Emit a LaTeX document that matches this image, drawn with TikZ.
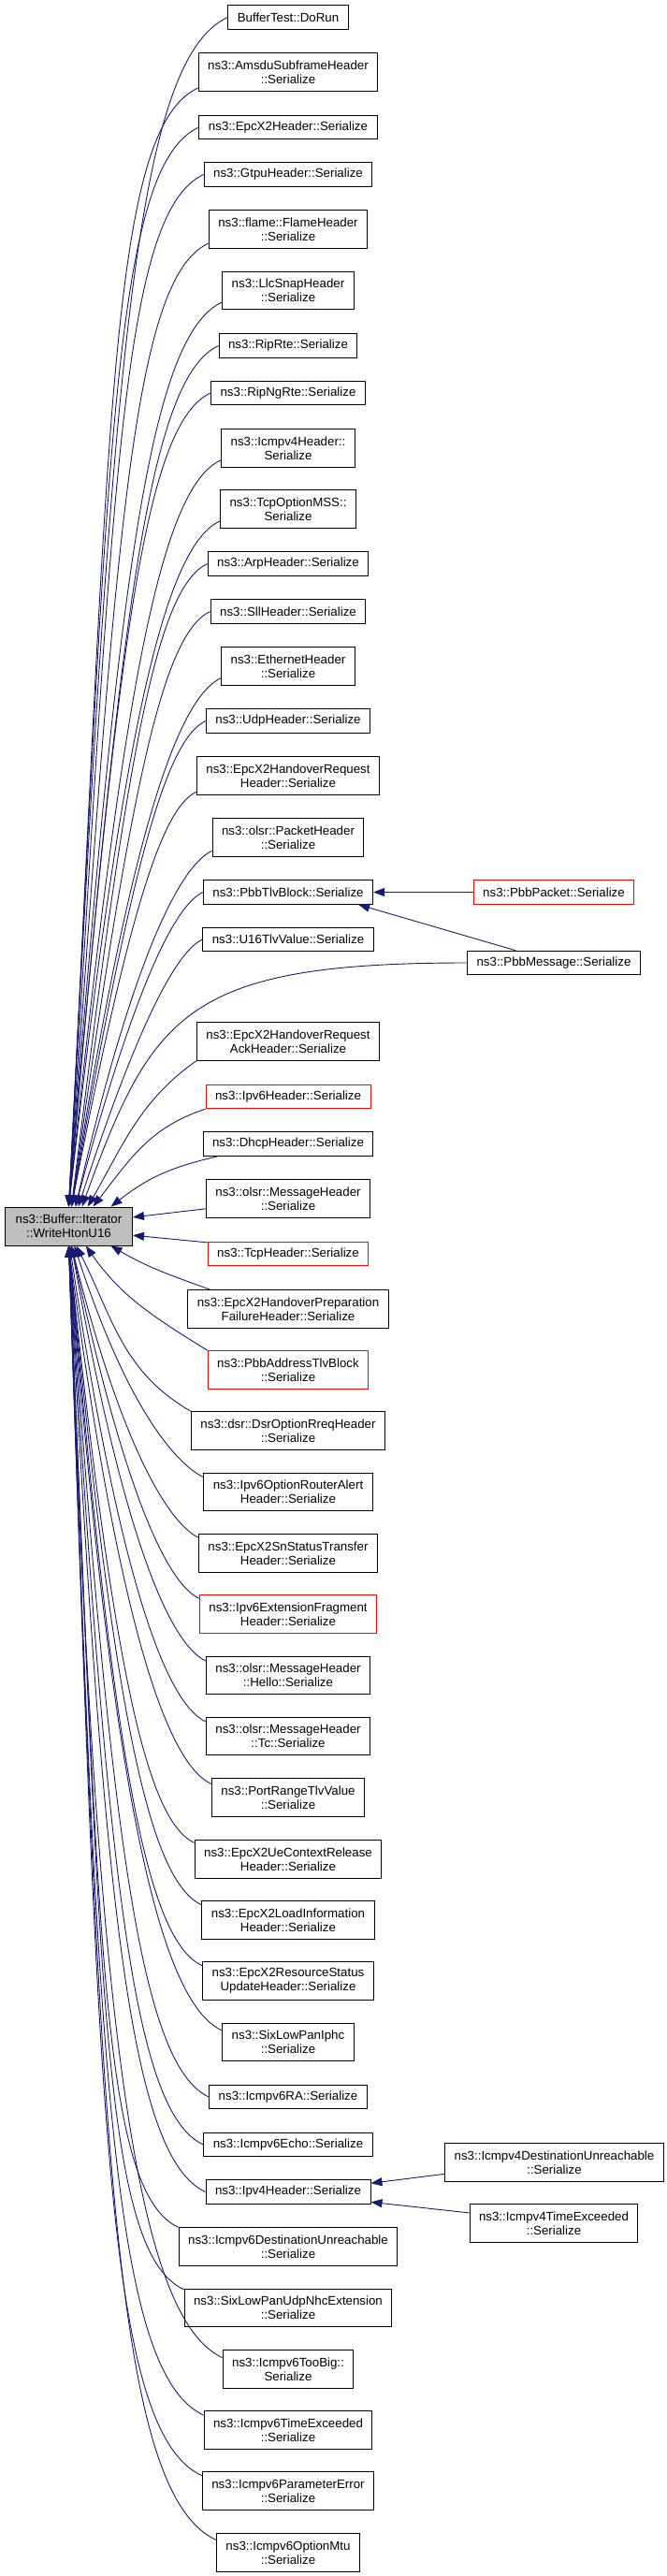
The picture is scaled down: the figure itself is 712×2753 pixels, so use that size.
\documentclass[tikz,border=0pt]{standalone}
\usepackage{fontspec}
\setmainfont{Liberation Sans}
\usepackage{xcolor}
\definecolor{midnight}{HTML}{191970}
\definecolor{callred}{HTML}{FF0000}
\definecolor{rootgray}{HTML}{BFBFBF}
\usetikzlibrary{arrows.meta,positioning}
\tikzset{
    fn/.style ={rectangle, draw, line width=1pt, align=center, inner xsep=10pt, inner ysep=3pt,
                minimum height=25.5pt, font=\fontsize{13.3}{15}\selectfont},
    fn2/.style ={fn, minimum height=40.5pt},
    hot/.style ={draw=callred},
    root/.style ={fn2, fill=rootgray, minimum width=136pt, minimum height=41pt},
    call/.style ={midnight, line width=0.9pt, -{Triangle[length=12pt,width=9pt]}}
}

\begin{document}
\begin{tikzpicture}[x=1pt,y=-1pt]
      \useasboundingbox (0,0) rectangle (712,2753);

      \node[root] (main) at (73.5,1310.5) {ns3::Buffer::Iterator\\::WriteHtonU16};

      % callers, top half
      \node[fn] (doRun) at (308,18.5) {BufferTest::DoRun};
      \node[fn2] (amsdu) at (308,77) {ns3::AmsduSubframeHeader\\::Serialize};
      \node[fn] (epcX2) at (308,136) {ns3::EpcX2Header::Serialize};
      \node[fn] (gtpu) at (308,186.5) {ns3::GtpuHeader::Serialize};
      \node[fn2] (flame) at (308,245) {ns3::flame::FlameHeader\\::Serialize};
      \node[fn2] (llcSnap) at (308,310.5) {ns3::LlcSnapHeader\\::Serialize};
      \node[fn] (ripRte) at (308,369.5) {ns3::RipRte::Serialize};
      \node[fn] (ripNgRte) at (308,420) {ns3::RipNgRte::Serialize};
      \node[fn2] (icmpv4) at (308,479) {ns3::Icmpv4Header::\\Serialize};
      \node[fn2] (tcpMss) at (308,544) {ns3::TcpOptionMSS::\\Serialize};
      \node[fn] (arp) at (308,602.5) {ns3::ArpHeader::Serialize};
      \node[fn] (sll) at (308,653.5) {ns3::SllHeader::Serialize};
      \node[fn2] (ethernet) at (308,712) {ns3::EthernetHeader\\::Serialize};
      \node[fn] (udp) at (308,770.5) {ns3::UdpHeader::Serialize};
      \node[fn2] (hoRequest) at (308,829) {ns3::EpcX2HandoverRequest\\Header::Serialize};
      \node[fn2] (olsrPacket) at (308,895) {ns3::olsr::PacketHeader\\::Serialize};
      \node[fn] (tlvBlock) at (308,953.5) {ns3::PbbTlvBlock::Serialize};
      \node[fn] (u16Tlv) at (308,1004) {ns3::U16TlvValue::Serialize};
      \node[fn2] (hoAck) at (308,1113) {ns3::EpcX2HandoverRequest\\AckHeader::Serialize};
      \node[fn, hot] (ipv6) at (308,1172) {ns3::Ipv6Header::Serialize};
      \node[fn] (dhcp) at (308,1222.5) {ns3::DhcpHeader::Serialize};
      \node[fn2] (olsrMsg) at (308,1281) {ns3::olsr::MessageHeader\\::Serialize};
      \node[fn, hot] (tcp) at (308,1340) {ns3::TcpHeader::Serialize};

      % callers, bottom half
      \node[fn2] (hoPrep) at (308,1399) {ns3::EpcX2HandoverPreparation\\FailureHeader::Serialize};
      \node[fn2, hot] (addrTlv) at (308,1464) {ns3::PbbAddressTlvBlock\\::Serialize};
      \node[fn2] (dsrRreq) at (308,1529) {ns3::dsr::DsrOptionRreqHeader\\::Serialize};
      \node[fn2] (routerAlert) at (308,1594.5) {ns3::Ipv6OptionRouterAlert\\Header::Serialize};
      \node[fn2] (snStatus) at (308,1660) {ns3::EpcX2SnStatusTransfer\\Header::Serialize};
      \node[fn2, hot] (fragment) at (308,1725) {ns3::Ipv6ExtensionFragment\\Header::Serialize};
      \node[fn2] (hello) at (308,1790.5) {ns3::olsr::MessageHeader\\::Hello::Serialize};
      \node[fn2] (tc) at (308,1855.5) {ns3::olsr::MessageHeader\\::Tc::Serialize};
      \node[fn2] (portRange) at (308,1921) {ns3::PortRangeTlvValue\\::Serialize};
      \node[fn2] (ueRelease) at (308,1987) {ns3::EpcX2UeContextRelease\\Header::Serialize};
      \node[fn2] (loadInfo) at (308,2052) {ns3::EpcX2LoadInformation\\Header::Serialize};
      \node[fn2] (resStatus) at (308,2117) {ns3::EpcX2ResourceStatus\\UpdateHeader::Serialize};
      \node[fn2] (iphc) at (308,2182.5) {ns3::SixLowPanIphc\\::Serialize};
      \node[fn] (ra) at (308,2241) {ns3::Icmpv6RA::Serialize};
      \node[fn] (echo) at (308,2292) {ns3::Icmpv6Echo::Serialize};
      \node[fn] (ipv4) at (308,2342.5) {ns3::Ipv4Header::Serialize};
      \node[fn2] (destUnreach6) at (308,2401) {ns3::Icmpv6DestinationUnreachable\\::Serialize};
      \node[fn2] (udpNhc) at (308,2466.5) {ns3::SixLowPanUdpNhcExtension\\::Serialize};
      \node[fn2] (tooBig) at (308,2532) {ns3::Icmpv6TooBig::\\Serialize};
      \node[fn2] (timeExc6) at (308,2597) {ns3::Icmpv6TimeExceeded\\::Serialize};
      \node[fn2] (paramErr) at (308,2662) {ns3::Icmpv6ParameterError\\::Serialize};
      \node[fn2] (optMtu) at (308,2728) {ns3::Icmpv6OptionMtu\\::Serialize};

      % second level callers
      \node[fn, hot] (pbbPacket) at (592,953.5) {ns3::PbbPacket::Serialize};
      \node[fn] (pbbMessage) at (592,1029) {ns3::PbbMessage::Serialize};
      \node[fn2] (destUnreach4) at (592.5,2311) {ns3::Icmpv4DestinationUnreachable\\::Serialize};
      \node[fn2] (timeExc4) at (592,2376) {ns3::Icmpv4TimeExceeded\\::Serialize};

      \draw[call] (doRun.west) .. controls +(205:110pt) and +(87:900pt) .. (main.north);
      \draw[call] (amsdu.190) .. controls +(205:104pt) and +(87:845pt) .. (main.north);
      \draw[call] (epcX2.west) .. controls +(205:100pt) and +(87:815pt) .. (main.north);
      \draw[call] (gtpu.west) .. controls +(205:96pt) and +(86.5:780pt) .. (main.north);
      \draw[call] (flame.190) .. controls +(205:89pt) and +(86:727pt) .. (main.north);
      \draw[call] (llcSnap.190) .. controls +(205:84pt) and +(85.5:684pt) .. (main.north);
      \draw[call] (ripRte.west) .. controls +(205:80pt) and +(85:653pt) .. (main.north);
      \draw[call] (ripNgRte.west) .. controls +(205:76pt) and +(85:618pt) .. (main.north);
      \draw[call] (icmpv4.190) .. controls +(205:70pt) and +(84:568pt) .. (main.north);
      \draw[call] (tcpMss.190) .. controls +(205:64pt) and +(83.5:522pt) .. (main.north);
      \draw[call] (arp.west) .. controls +(205:60pt) and +(83:492pt) .. (main.82);
      \draw[call] (sll.west) .. controls +(205:56pt) and +(82:457pt) .. (main.82);
      \draw[call] (ethernet.190) .. controls +(205:50pt) and +(81:409pt) .. (main.82);
      \draw[call] (udp.west) .. controls +(205:46pt) and +(80:377pt) .. (main.82);
      \draw[call] (hoRequest.190) .. controls +(205:40pt) and +(79:325pt) .. (main.82);
      \draw[call] (olsrPacket.190) .. controls +(205:35pt) and +(77:284pt) .. (main.71);
      \draw[call] (tlvBlock.west) .. controls +(205:31pt) and +(75:254pt) .. (main.71);
      \draw[call] (u16Tlv.west) .. controls +(205:27pt) and +(72:220pt) .. (main.64);
      \draw[call] (pbbMessage.west) .. controls +(180:300pt) and +(70:220pt) .. (main.56);
      \draw[call] (hoAck.south west) .. controls +(215:74pt) and +(60:74pt) .. (main.46);
      \draw[call] (ipv6.south west) .. controls +(198:63pt) and +(52:63pt) .. (main.39);
      \draw[call] (dhcp.190) .. controls +(193:51pt) and +(38:51pt) .. (main.25);
      \draw[call] (olsrMsg.187) -- (main.8);
      \draw[call] (tcp.172) -- (main.-8);
      \draw[call] (hoPrep.166) .. controls +(160:47pt) and +(-30:47pt) .. (main.-25);
      \draw[call] (addrTlv.north west) .. controls +(148:67pt) and +(-55:67pt) .. (main.-49);
      \draw[call] (dsrRreq.north west) .. controls +(150:85pt) and +(-63:85pt) .. (main.-69);
      \draw[call] (routerAlert.170) .. controls +(155:24pt) and +(-72:198pt) .. (main.-74);
      \draw[call] (snStatus.170) .. controls +(155:29pt) and +(-76:238pt) .. (main.-82);
      \draw[call] (fragment.170) .. controls +(155:35pt) and +(-78:281pt) .. (main.-82);
      \draw[call] (hello.170) .. controls +(155:40pt) and +(-80:327pt) .. (main.-82);
      \draw[call] (tc.170) .. controls +(155:45pt) and +(-81.5:370pt) .. (main.-87);
      \draw[call] (portRange.170) .. controls +(155:51pt) and +(-82.5:416pt) .. (main.south);
      \draw[call] (ueRelease.170) .. controls +(155:56pt) and +(-84:456pt) .. (main.south);
      \draw[call] (loadInfo.170) .. controls +(155:62pt) and +(-84.5:503pt) .. (main.south);
      \draw[call] (resStatus.170) .. controls +(155:67pt) and +(-85:547pt) .. (main.south);
      \draw[call] (iphc.170) .. controls +(155:73pt) and +(-85.5:595pt) .. (main.south);
      \draw[call] (ra.west) .. controls +(155:79pt) and +(-86:645pt) .. (main.south);
      \draw[call] (echo.west) .. controls +(155:83pt) and +(-86.5:680pt) .. (main.south);
      \draw[call] (ipv4.west) .. controls +(155:88pt) and +(-87:715pt) .. (main.south);
      \draw[call] (destUnreach6.170) .. controls +(155:91pt) and +(-87.5:742pt) .. (main.south);
      \draw[call] (udpNhc.170) .. controls +(155:97pt) and +(-87.5:788pt) .. (main.south);
      \draw[call] (tooBig.170) .. controls +(155:103pt) and +(-88:836pt) .. (main.south);
      \draw[call] (timeExc6.170) .. controls +(155:108pt) and +(-88:880pt) .. (main.south);
      \draw[call] (paramErr.170) .. controls +(155:114pt) and +(-88:925pt) .. (main.south);
      \draw[call] (optMtu.170) .. controls +(155:120pt) and +(-88:973pt) .. (main.south);

      \draw[call] (pbbPacket) -- (tlvBlock);
      \draw[call] (pbbMessage.162) -- (tlvBlock.-10);
      \draw[call] (destUnreach4.186) -- (ipv4.6);
      \draw[call] (timeExc4.173) -- (ipv4.-7);
\end{tikzpicture}
\end{document}
